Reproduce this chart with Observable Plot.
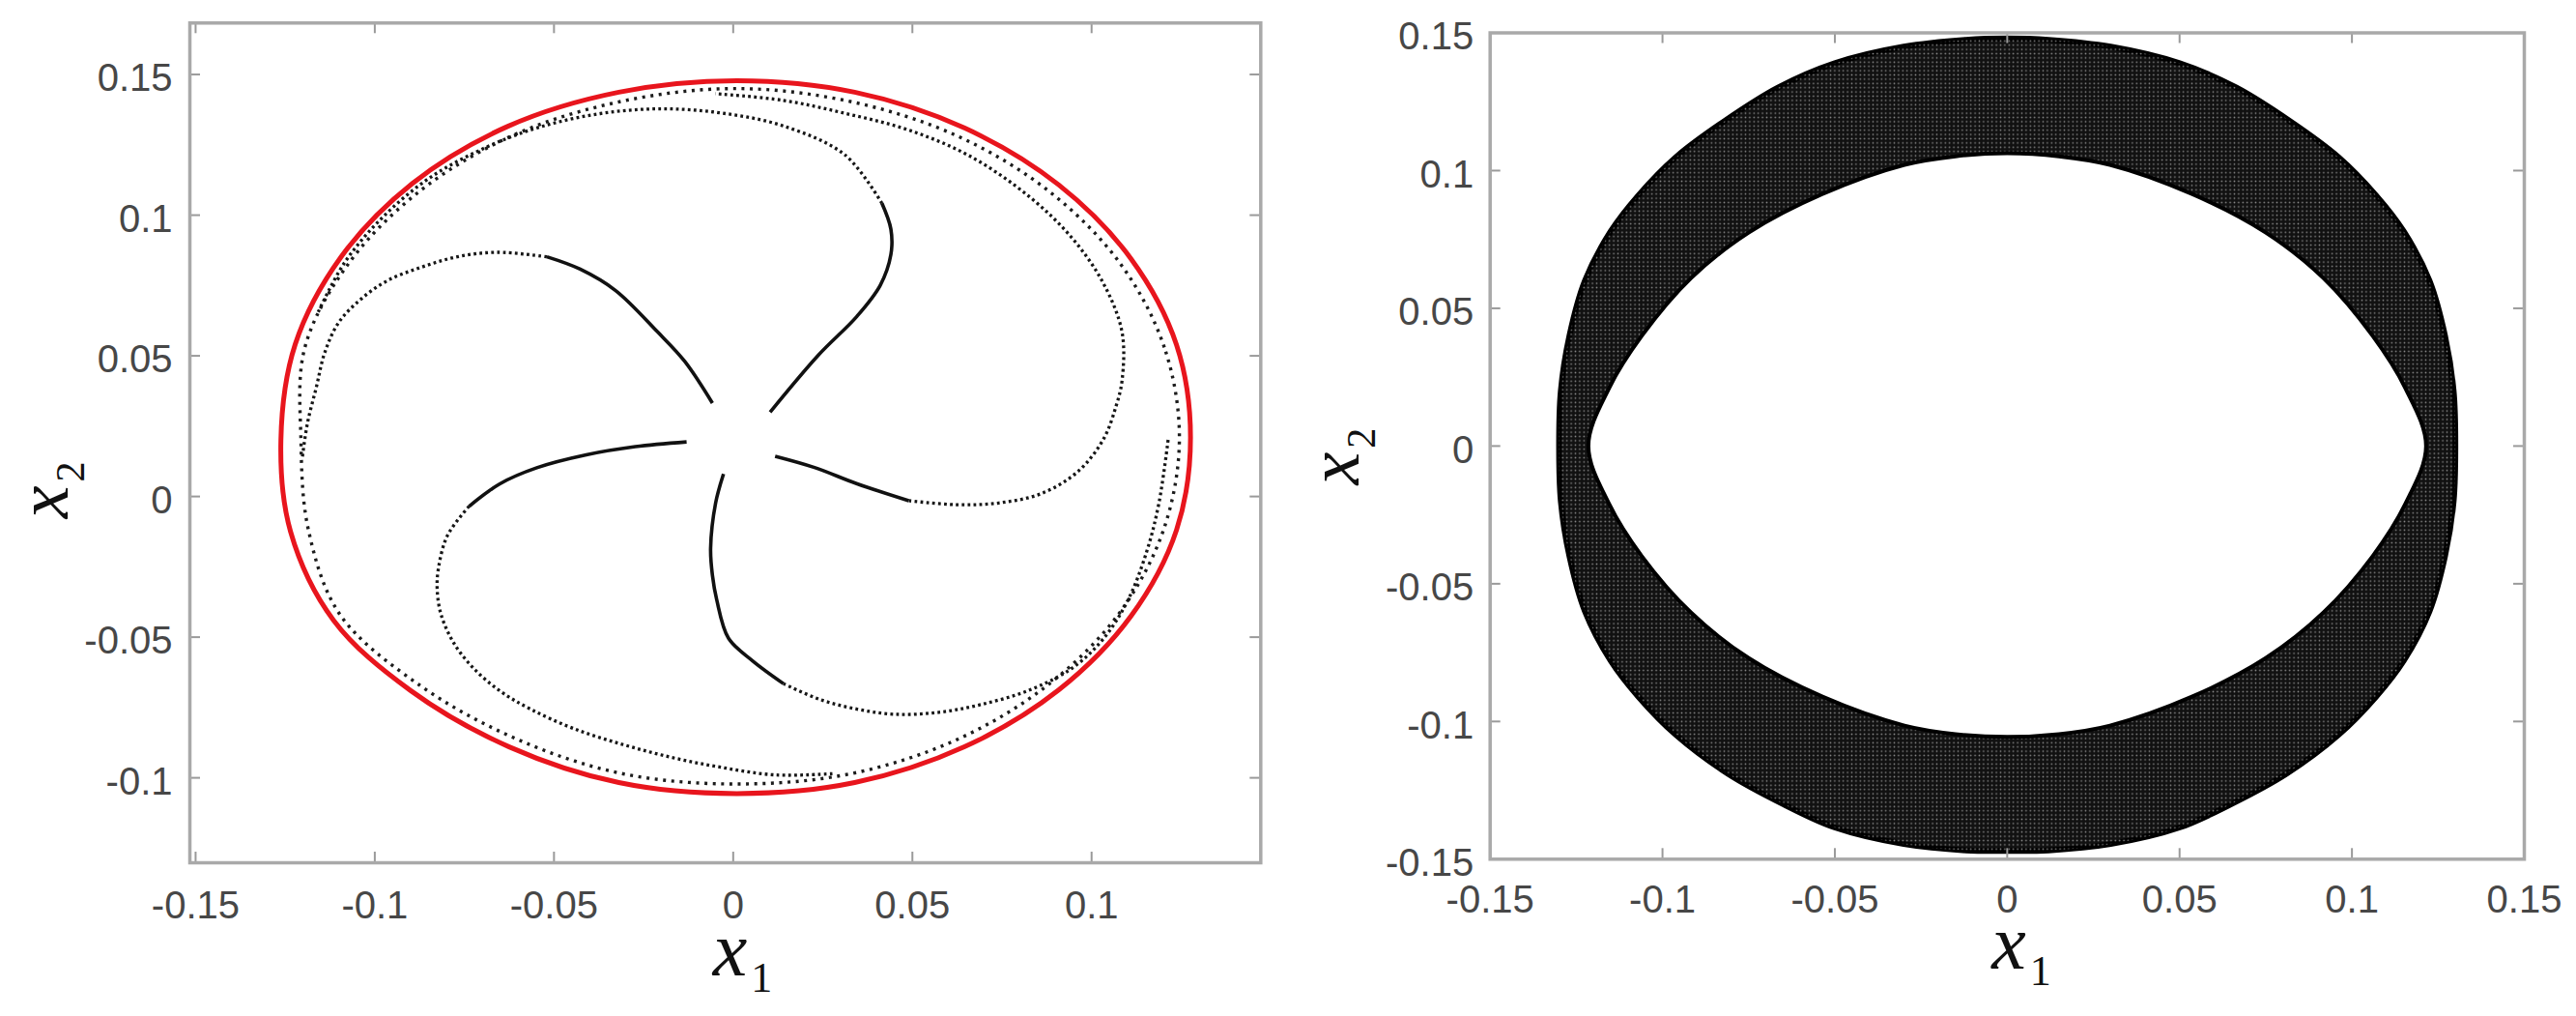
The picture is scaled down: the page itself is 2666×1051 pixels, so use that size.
<!DOCTYPE html>
<html><head><meta charset="utf-8">
<script src="https://cdn.jsdelivr.net/npm/d3@7"></script>
<script src="https://cdn.jsdelivr.net/npm/@observablehq/plot@0.6"></script>
<style>
html,body{margin:0;padding:0;background:#fff;}
#wrap{position:relative;width:2666px;height:1051px;overflow:hidden;background:#fff;}
#left{position:absolute;left:0;top:0;}
#right{position:absolute;left:1333px;top:0;}
</style></head><body><div id="wrap"><div id="left"></div><div id="right"></div></div>
<script>
// ---------- tick values / limits ----------
const xTicksL = [-0.15, -0.1, -0.05, 0, 0.05, 0.1];
const yTicksL = [-0.1, -0.05, 0, 0.05, 0.1, 0.15];
const xDomainL = [-0.1516, 0.1472];
const yDomainL = [-0.1302, 0.1683];
const ticksR = [-0.15, -0.1, -0.05, 0, 0.05, 0.1, 0.15];
const domainR = [-0.15, 0.15];
const labelLetter = ["x"];
const labelSubX = "1";
const labelSubY = "2";

// ---------- left panel: limit cycle (red) ----------
const redCycle = [
  [0.1276,0.0210],[0.1237,0.0539],[0.1110,0.0845],[0.0908,0.1108],[0.0645,0.1310],[0.0339,0.1437],
  [0.0010,0.1478],[-0.0319,0.1437],[-0.0630,0.1315],[-0.0895,0.1113],[-0.1095,0.0850],[-0.1222,0.0541],
  [-0.1262,0.0200],[-0.1235,-0.0125],[-0.1115,-0.0440],[-0.0900,-0.0690],[-0.0625,-0.0890],[-0.0319,-0.1017],
  [0.0010,-0.1056],[0.0339,-0.1017],[0.0645,-0.0890],[0.0908,-0.0688],[0.1110,-0.0425],[0.1237,-0.0119]
];
// trajectories settled just inside the limit cycle (dotted)
const settledLoop = [
  [0.1245,0.0210],[0.1203,0.0530],[0.1080,0.0828],[0.0883,0.1083],[0.0628,0.1280],[0.0330,0.1403],
  [0.0010,0.1450],[-0.0310,0.1405],[-0.0612,0.1285],[-0.0873,0.1087],[-0.1072,0.0830],[-0.1195,0.0530],
  [-0.1206,0.0200],[-0.1185,-0.0120],[-0.1097,-0.0420],[-0.0878,-0.0668],[-0.0608,-0.0860],[-0.0310,-0.0985],
  [0.0010,-0.1022],[0.0330,-0.0985],[0.0628,-0.0862],[0.0883,-0.0665],[0.1080,-0.0410],[0.1203,-0.0110]
];
// five trajectories leaving the centre: dense (solid-looking) part, then dotted part
const arm1Solid = [[-0.0058,0.0332],[-0.0135,0.0480],[-0.0211,0.0585],[-0.0328,0.0732],[-0.0427,0.0808],[-0.0520,0.0852]];
const arm1Dotted = [[-0.0520,0.0852],[-0.0660,0.0868],[-0.0770,0.0852],[-0.0870,0.0815],[-0.0965,0.0767],[-0.1040,0.0700],[-0.1101,0.0618],[-0.1140,0.0510],[-0.1163,0.0389],[-0.1188,0.0260],[-0.1202,0.0140]];
const arm2Solid = [[0.0103,0.0300],[0.0238,0.0503],[0.0345,0.0640],[0.0410,0.0750],[0.0440,0.0860],[0.0440,0.0950],[0.0415,0.1042]];
const arm2Dotted = [[0.0415,0.1042],[0.0312,0.1214],[0.0140,0.1317],[-0.0032,0.1363],[-0.0204,0.1378],[-0.0376,0.1360],[-0.0548,0.1310],[-0.0700,0.1235],[-0.0850,0.1130],[-0.0980,0.0990],[-0.1085,0.0830],[-0.1160,0.0650]];
const arm3Solid = [[-0.0130,0.0194],[-0.0273,0.0177],[-0.0410,0.0148],[-0.0548,0.0102],[-0.0651,0.0045],[-0.0737,-0.0035]];
const arm3Dotted = [[-0.0737,-0.0035],[-0.0797,-0.0138],[-0.0822,-0.0252],[-0.0826,-0.0330],[-0.0815,-0.0420],[-0.0780,-0.0520],[-0.0725,-0.0610],[-0.0650,-0.0692],[-0.0565,-0.0756],[-0.0445,-0.0825],[-0.0307,-0.0882],[-0.0170,-0.0928],[-0.0032,-0.0963],[0.0120,-0.0990],[0.0280,-0.0985]];
const arm4Solid = [[0.0117,0.0143],[0.0227,0.0103],[0.0346,0.0045],[0.0490,-0.0015]];
const arm4Dotted = [[0.0490,-0.0015],[0.0621,-0.0029],[0.0741,-0.0023],[0.0861,0.0011],[0.0964,0.0091],[0.1034,0.0206],[0.1068,0.0320],[0.1085,0.0412],[0.1085,0.0584],[0.1034,0.0755],[0.0948,0.0915],[0.0827,0.1065],[0.0656,0.1213],[0.0484,0.1305],[0.0312,0.1362],[0.0140,0.1408],[-0.0050,0.1432]];
const arm5Solid = [[-0.0027,0.0080],[-0.0049,-0.0023],[-0.0063,-0.0184],[-0.0058,-0.0280],[-0.0046,-0.0367],[-0.0013,-0.0504],[0.0054,-0.0584],[0.0140,-0.0665]];
const arm5Dotted = [[0.0140,-0.0665],[0.0243,-0.0722],[0.0346,-0.0756],[0.0449,-0.0774],[0.0569,-0.0768],[0.0690,-0.0740],[0.0827,-0.0688],[0.0948,-0.0608],[0.1034,-0.0504],[0.1102,-0.0367],[0.1154,-0.0195],[0.1188,-0.0023],[0.1214,0.0206]];

// ---------- right panel: torus band boundaries ----------
const bandOuter = [
  [0.1300,0.0000],[0.1295,0.0200],[0.1270,0.0400],[0.1225,0.0600],[0.1150,0.0780],[0.1070,0.0910],[0.0960,0.1050],[0.0820,0.1180],[0.0664,0.1302],[0.0500,0.1390],[0.0300,0.1450],[0.0120,0.1475],[0.0000,0.1480],
  [-0.0120,0.1475],[-0.0300,0.1450],[-0.0500,0.1390],[-0.0664,0.1302],[-0.0820,0.1180],[-0.0960,0.1050],[-0.1070,0.0910],[-0.1150,0.0780],[-0.1225,0.0600],[-0.1270,0.0400],[-0.1295,0.0200],[-0.1300,0.0000],
  [-0.1295,-0.0200],[-0.1270,-0.0400],[-0.1225,-0.0600],[-0.1150,-0.0780],[-0.1070,-0.0910],[-0.0960,-0.1050],[-0.0810,-0.1190],[-0.0650,-0.1300],[-0.0500,-0.1385],[-0.0300,-0.1445],[-0.0120,-0.1468],[0.0000,-0.1470],
  [0.0120,-0.1468],[0.0300,-0.1445],[0.0500,-0.1385],[0.0650,-0.1300],[0.0810,-0.1190],[0.0960,-0.1050],[0.1070,-0.0910],[0.1150,-0.0780],[0.1225,-0.0600],[0.1270,-0.0400],[0.1295,-0.0200]
];
const bandInner = [
  [0.1215,0.0000],[0.1155,0.0210],[0.1060,0.0400],[0.0917,0.0610],[0.0750,0.0775],[0.0536,0.0915],[0.0298,0.1021],[0.0150,0.1052],[0.0000,0.1063],
  [-0.0150,0.1052],[-0.0298,0.1021],[-0.0536,0.0915],[-0.0750,0.0775],[-0.0917,0.0610],[-0.1060,0.0400],[-0.1155,0.0210],[-0.1215,0.0000],
  [-0.1155,-0.0210],[-0.1060,-0.0400],[-0.0917,-0.0605],[-0.0750,-0.0770],[-0.0536,-0.0910],[-0.0298,-0.1015],[-0.0150,-0.1046],[0.0000,-0.1056],
  [0.0150,-0.1046],[0.0298,-0.1015],[0.0536,-0.0910],[0.0750,-0.0770],[0.0917,-0.0605],[0.1060,-0.0400],[0.1155,-0.0210]
];

// ---------- helpers ----------
const X = d => d[0], Y = d => d[1];
const sans = "'Liberation Sans', Arial, Helvetica, sans-serif";
const serif = "'Liberation Serif', 'Times New Roman', Times, serif";
const tickStyle = {stroke: "#9a9a9a", strokeWidth: 2};

function boxMarks(xt, yt, xd, yd, padX, padY) {
  return [
    Plot.ruleX(xt, {x: d => d, y1: yd[0], y2: yd[0], insetBottom: 11, ...tickStyle}),
    Plot.ruleX(xt, {x: d => d, y1: yd[1], y2: yd[1], insetBottom: -11, ...tickStyle}),
    Plot.ruleY(yt, {y: d => d, x1: xd[0], x2: xd[0], insetRight: -11, ...tickStyle}),
    Plot.ruleY(yt, {y: d => d, x1: xd[1], x2: xd[1], insetRight: 11, ...tickStyle}),
    Plot.frame({stroke: "#a9a9a9", strokeWidth: 3.5}),
    Plot.axisX(xt, {anchor: "bottom", tickSize: 0, tickPadding: padX, tickFormat: d => String(d), fontSize: 40, color: "#474747", label: null}),
    Plot.axisY(yt, {anchor: "left", tickSize: 0, tickPadding: padY, tickFormat: d => String(d), fontSize: 40, color: "#474747", label: null, dy: 4.5})
  ];
}

// axis titles: italic x with an upright subscript (tspan added after render)
function titleMarks(t) {
  return [
    Plot.text(labelLetter, {frameAnchor: "bottom", text: d => d, dx: t.x1dx, dy: t.x1dy, textAnchor: "start", lineAnchor: "bottom", fontFamily: serif, fontStyle: "italic", fontSize: 80, fill: "#111", className: "xt1"}),
    Plot.text(labelLetter, {frameAnchor: "left", text: d => d, dx: t.x2dx, dy: t.x2dy, rotate: -90, textAnchor: "start", lineAnchor: "bottom", fontFamily: serif, fontStyle: "italic", fontSize: 76, fill: "#111", className: "xt2"})
  ];
}
function addSubscripts(svg) {
  const s = d3.select(svg);
  s.selectAll("g.xt1 text").append("tspan").attr("dx", 4).attr("dy", 17).attr("font-style", "normal").attr("font-size", 44).text(labelSubX);
  s.selectAll("g.xt2 text").append("tspan").attr("dx", 4).attr("dy", 17).attr("font-style", "normal").attr("font-size", 42).text(labelSubY);
}

// ---------- left chart ----------
const solidArms = [arm1Solid, arm2Solid, arm3Solid, arm4Solid, arm5Solid];
const dottedArms = [arm1Dotted, arm2Dotted, arm3Dotted, arm4Dotted, arm5Dotted];

const left = Plot.plot({
  width: 1333, height: 1051,
  marginLeft: 196, marginRight: 28.7, marginTop: 23.3, marginBottom: 159,
  x: {domain: xDomainL, axis: null},
  y: {domain: yDomainL, axis: null},
  style: {fontFamily: sans, background: "#fff", overflow: "visible", maxWidth: "none"},
  marks: [
    Plot.line(redCycle, {x: X, y: Y, curve: "catmull-rom-closed", stroke: "#e8151d", strokeWidth: 5}),
    Plot.line(settledLoop, {x: X, y: Y, curve: "catmull-rom-closed", stroke: "#1c1c1c", strokeWidth: 3.4, strokeDasharray: "3,5.6", strokeLinecap: "butt"}),
    ...dottedArms.map(a => Plot.line(a, {x: X, y: Y, curve: "catmull-rom", stroke: "#161616", strokeWidth: 3.3, strokeDasharray: "2.8,3.3", strokeLinecap: "butt"})),
    ...solidArms.map(a => Plot.line(a, {x: X, y: Y, curve: "catmull-rom", stroke: "#111", strokeWidth: 3.6, strokeLinecap: "butt"})),
    ...boxMarks(xTicksL, yTicksL, xDomainL, yDomainL, 29, 18),
    ...titleMarks({x1dx: -13, x1dy: 116, x2dx: -127, x2dy: 78})
  ]
});
addSubscripts(left);
document.getElementById("left").appendChild(left);

// ---------- right chart ----------
const right = Plot.plot({
  width: 1333, height: 1051,
  marginLeft: 208.7, marginRight: 54, marginTop: 33.5, marginBottom: 162.7,
  x: {domain: domainR, axis: null},
  y: {domain: domainR, axis: null},
  style: {fontFamily: sans, background: "#fff", overflow: "visible", maxWidth: "none"},
  marks: [
    Plot.line(bandOuter, {x: X, y: Y, curve: "catmull-rom-closed", fill: "#111", stroke: "#000", strokeWidth: 6}),
    Plot.line(bandOuter, {x: X, y: Y, curve: "catmull-rom-closed", fill: "url(#meshR)", stroke: "none"}),
    Plot.line(bandInner, {x: X, y: Y, curve: "catmull-rom-closed", fill: "#fff", stroke: "#000", strokeWidth: 4}),
    ...boxMarks(ticksR, ticksR, domainR, domainR, 27, 17),
    ...titleMarks({x1dx: -16, x1dy: 113, x2dx: -136, x2dy: 40})
  ]
});
// fine mesh texture of the densely wound trajectories
const defs = d3.select(right).insert("defs", ":first-child");
const pat = defs.append("pattern").attr("id", "meshR").attr("patternUnits", "userSpaceOnUse").attr("width", 4.4).attr("height", 4.4);
pat.append("circle").attr("cx", 2.2).attr("cy", 2.2).attr("r", 0.85).attr("fill", "#858585");
addSubscripts(right);
document.getElementById("right").appendChild(right);
</script>
</body></html>
